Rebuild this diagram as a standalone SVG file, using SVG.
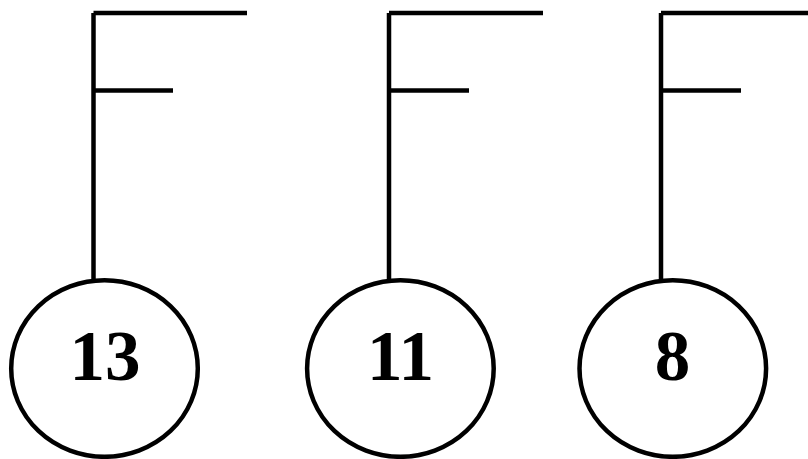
<svg xmlns="http://www.w3.org/2000/svg" width="808" height="459" viewBox="0 0 808 459">
  <style>
    .ln { stroke: #000; stroke-width: 4.5; fill: none; stroke-linecap: butt; }
    .node ellipse { stroke: #000; stroke-width: 4.5; fill: #fff; }
    .node text { font-family: "Liberation Serif", "Times New Roman", serif; font-weight: bold; font-size: 71px; fill: #000; text-anchor: middle; }
  </style>
  <rect width="808" height="459" fill="#fff"/>

  <!-- stems and flags -->
  <g id="connectors">
    <line class="ln" x1="93.5" y1="13" x2="93.5" y2="281"/>
    <line class="ln" x1="93.5" y1="13" x2="247" y2="13"/>
    <line class="ln" x1="93.5" y1="90.5" x2="173" y2="90.5"/>

    <line class="ln" x1="389" y1="13" x2="389" y2="281"/>
    <line class="ln" x1="389" y1="13" x2="543" y2="13"/>
    <line class="ln" x1="389" y1="90.5" x2="469" y2="90.5"/>

    <line class="ln" x1="661" y1="13" x2="661" y2="281"/>
    <line class="ln" x1="661" y1="13" x2="808" y2="13"/>
    <line class="ln" x1="661" y1="90.5" x2="741" y2="90.5"/>
  </g>

  <g id="node-13" class="node">
    <ellipse cx="104.5" cy="368.5" rx="93.3" ry="88.3"/>
    <text x="105" y="380">13</text>
  </g>
  <g id="node-11" class="node">
    <ellipse cx="400.4" cy="368.5" rx="93.3" ry="88.3"/>
    <text x="400.5" y="380">11</text>
  </g>
  <g id="node-8" class="node">
    <ellipse cx="672.8" cy="368.5" rx="93.3" ry="88.3"/>
    <text x="672.5" y="380">8</text>
  </g>
</svg>
